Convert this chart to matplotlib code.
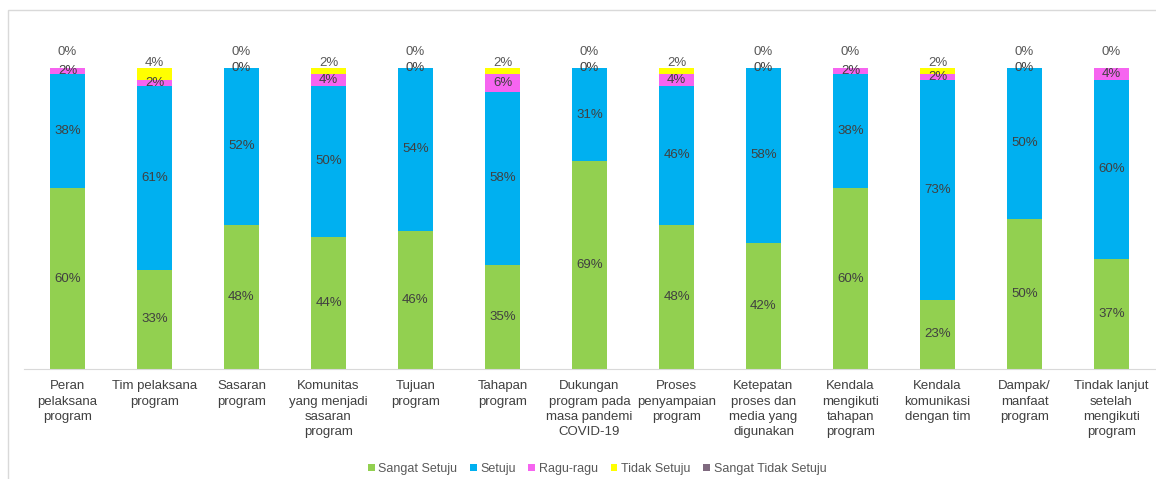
import numpy as np
import matplotlib
matplotlib.use("Agg")
import matplotlib.pyplot as plt
from matplotlib.patches import Rectangle

plt.rcParams['font.family'] = ['Liberation Sans', 'DejaVu Sans']

categories = ["Peran\npelaksana\nprogram", "Tim pelaksana\nprogram", "Sasaran\nprogram",
              "Komunitas\nyang menjadi\nsasaran\nprogram", "Tujuan\nprogram", "Tahapan\nprogram",
              "Dukungan\nprogram pada\nmasa pandemi\nCOVID-19", "Proses\npenyampaian\nprogram",
              "Ketepatan\nproses dan\nmedia yang\ndigunakan", "Kendala\nmengikuti\ntahapan\nprogram",
              "Kendala\nkomunikasi\ndengan tim", "Dampak/\nmanfaat\nprogram",
              "Tindak lanjut\nsetelah\nmengikuti\nprogram"]

sangat_setuju = [60, 33, 48, 44, 46, 35, 69, 48, 42, 60, 23, 50, 37]
setuju        = [38, 61, 52, 50, 54, 58, 31, 46, 58, 38, 73, 50, 60]
ragu_ragu     = [2, 2, 0, 4, 0, 6, 0, 4, 0, 2, 2, 0, 4]
tidak_setuju  = [0, 4, 0, 2, 0, 2, 0, 2, 0, 0, 2, 0, 0]
sangat_tidak  = [0, 0, 0, 0, 0, 0, 0, 0, 0, 0, 0, 0, 0]

series = [("Sangat Setuju", sangat_setuju, "#92D050"),
          ("Setuju", setuju, "#00B0F0"),
          ("Ragu-ragu", ragu_ragu, "#F664F0"),
          ("Tidak Setuju", tidak_setuju, "#FFFF00"),
          ("Sangat Tidak Setuju", sangat_tidak, "#7F6A7F")]

W, H = 1156, 479
fig = plt.figure(figsize=(W / 100, H / 100), dpi=100)
fig.patches.append(Rectangle((8 / W, -0.1), 1.2, (H - 10) / H + 0.1, transform=fig.transFigure,
                             fill=False, edgecolor="#D9D9D9", lw=1))
ax = fig.add_axes([24 / W, (H - 369) / H, (1155 - 24) / W, (369 - 68) / H])

x = np.arange(len(categories))
data = np.array([s[1] for s in series], dtype=float)
totals = data.sum(axis=0)
frac = data / totals  # 100% stacked
bottom = np.zeros(len(categories))
for (name, vals, col), f in zip(series, frac):
    ax.bar(x, f, 0.4, bottom=bottom, color=col, label=name, zorder=2)
    bottom += f

txt = "#404040"
cum = np.zeros(len(categories))
for k in range(4):
    vals = series[k][1]
    for i in range(len(categories)):
        mid = cum[i] + frac[k][i] / 2
        if k < 3:
            ax.text(x[i], mid, f"{vals[i]}%", ha="center", va="center", fontsize=9.5, color=txt)
        else:
            top = cum[i] + frac[k][i]
            off = 16 if vals[i] == 0 else 5
            ax.annotate(f"{vals[i]}%", (x[i], top), xytext=(0, off), textcoords="offset pixels",
                        ha="center", va="center", fontsize=9.5, color="#595959", annotation_clip=False)
    cum += frac[k]

ax.set_xlim(-0.5, len(categories) - 0.5)
ax.set_ylim(0, 1)
ax.set_yticks([])
ax.set_xticks(x)
ax.set_xticklabels(categories, fontsize=9.5, color="#404040", linespacing=1.38)
ax.tick_params(axis="x", length=0, pad=8)
for s in ["top", "right", "left"]:
    ax.spines[s].set_visible(False)
ax.spines["bottom"].set_color("#D9D9D9")
ax.set_facecolor("none")

fig.legend(loc="center", bbox_to_anchor=(597 / W, 1 - 469 / H), ncol=5, frameon=False,
           fontsize=9, handlelength=0.55, handleheight=0.55, handletextpad=0.3, columnspacing=1.0,
           labelcolor="#595959")

fig.savefig("out.png", dpi=100)
